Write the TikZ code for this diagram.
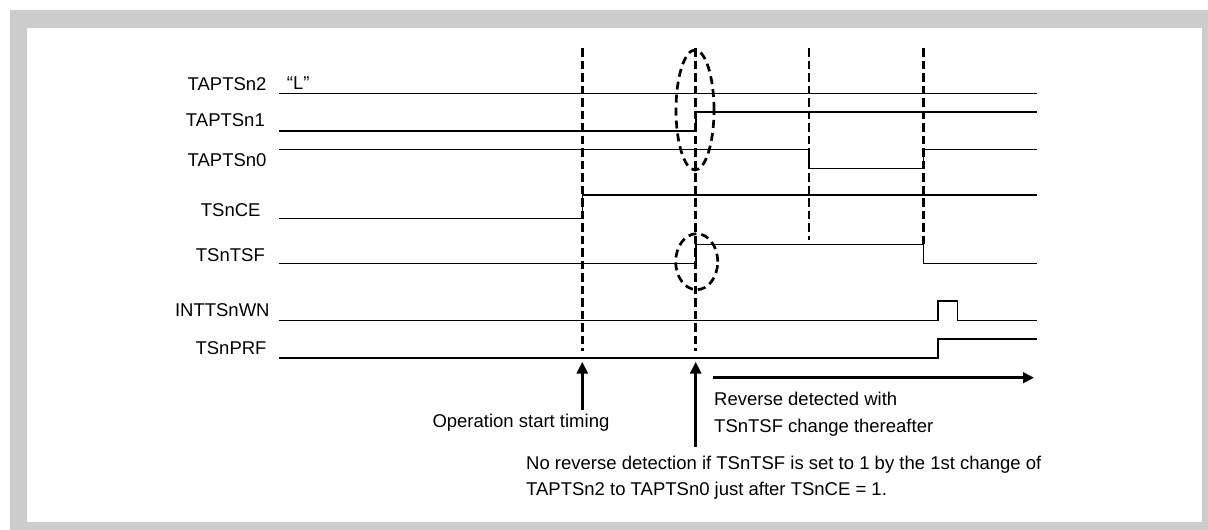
\documentclass[tikz,border=0pt]{standalone}
\usepackage{fontspec}
\setmainfont{Liberation Sans}
\usetikzlibrary{arrows.meta}
\definecolor{framegray}{RGB}{204,204,204}
\begin{document}
\begin{tikzpicture}[x=1pt,y=-1pt,
  sig/.style={line width=1.6pt, line join=miter},
  guide/.style={line width=2.7pt, dash pattern=on 8.5pt off 4pt},
  ring/.style={line width=2.7pt, dash pattern=on 8pt off 5pt},
  lbl/.style={inner sep=0pt, font=\fontsize{18.5}{22}\selectfont},
  bigarrow/.style={line width=3pt, -{Triangle[length=12pt,width=11pt]}},
  sidearrow/.style={line width=3.2pt, -{Triangle[length=11pt,width=10.5pt]}}]
\useasboundingbox (0,0) rectangle (1208,530);
\fill[white] (0,0) rectangle (1208,530);
\fill[framegray] (10,10) rectangle (1208,530);
\fill[white] (27,28) rectangle (1202,522);

% signal labels
\node[lbl, anchor=base east] (l2) at (266.7,90) {TAPTSn2};
\node[lbl, anchor=base east] (l1) at (265,126.7) {TAPTSn1};
\node[lbl, anchor=base east] (l0) at (266.7,166.7) {TAPTSn0};
\node[lbl, anchor=base east] (lce) at (260.7,216) {TSnCE};
\node[lbl, anchor=base east] (ltsf) at (265,261.7) {TSnTSF};
\node[lbl, anchor=base east] (lwn) at (269.8,316.7) {INTTSnWN};
\node[lbl, anchor=base east] (lprf) at (266.7,354.3) {TSnPRF};
\node[lbl, anchor=base west] (lL) at (286.7,89.3) {“L”};

% guides
\draw[guide] (582.3,48) -- (582.3,351);
\draw[guide] (695.7,48) -- (695.7,351);
\draw[guide] (809,48) -- (809,240);
\draw[guide] (923.3,48) -- (923.3,244);

% signals
\draw[sig] (279,93.3) -- (1037,93.3);
\draw[sig] (279,130.7) -- (695.7,130.7) -- (695.7,112) -- (1037,112);
\draw[sig] (279,149.5) -- (809,149.5) -- (809,168.3) -- (923.3,168.3) -- (923.3,149.5) -- (1037,149.5);
\draw[sig] (279,218.3) -- (582.3,218.3) -- (582.3,195) -- (1037,195);
\draw[sig] (279,263.3) -- (695.7,263.3) -- (695.7,244.3) -- (923.3,244.3) -- (923.3,263.3) -- (1037,263.3);
\draw[sig] (279,320.3) -- (937.7,320.3) -- (937.7,301) -- (957.3,301) -- (957.3,320.3) -- (1037,320.3);
\draw[sig] (279,358) -- (937.7,358) -- (937.7,339) -- (1037,339);

% dashed rings
\draw[ring] (695,110) ellipse [x radius=19pt, y radius=60pt];
\draw[ring] (696.7,261.7) ellipse [x radius=21pt, y radius=28pt];

% arrows
\coordinate (a1b) at (582.3,410);
\coordinate (a1t) at (582.3,361.7);
\coordinate (a2b) at (695.7,446.7);
\coordinate (a2t) at (695.7,361.7);
\coordinate (a3l) at (713,377.7);
\coordinate (a3r) at (1034,377.7);
\draw[bigarrow] (a1b) -- (a1t);
\draw[bigarrow] (a2b) -- (a2t);
\draw[sidearrow] (a3l) -- (a3r);

% notes
\node[lbl, anchor=base west] (t1) at (432.3,427.7) {Operation start timing};
\node[lbl, anchor=base west] (t2) at (714,405) {Reverse detected with};
\node[lbl, anchor=base west] (t3) at (714,432.7) {TSnTSF change thereafter};
\node[lbl, anchor=base west] (t4) at (526,469.3) {No reverse detection if TSnTSF is set to 1 by the 1st change of};
\node[lbl, anchor=base west] (t5) at (526,495.5) {TAPTSn2 to TAPTSn0 just after TSnCE = 1.};
\end{tikzpicture}
\end{document}
